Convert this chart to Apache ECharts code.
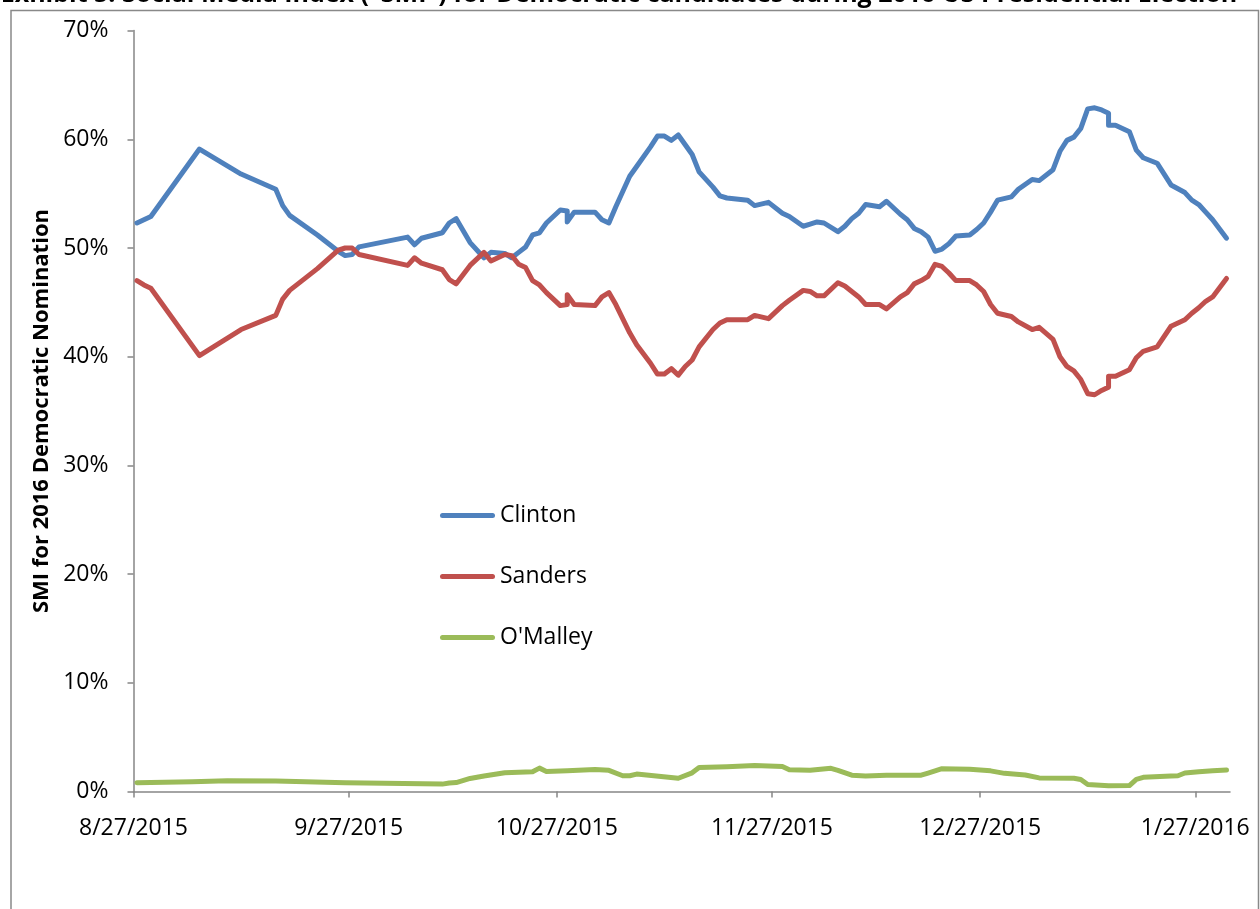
<!DOCTYPE html>
<html>
<head>
<meta charset="utf-8">
<script src="https://cdn.jsdelivr.net/npm/echarts@6/dist/echarts.min.js"></script>
<style>
  html, body { margin: 0; padding: 0; background: #ffffff; }
  #chart { width: 1260px; height: 909px; }
</style>
</head>
<body>
<div id="chart"></div>
<script>
// Daily SMI readings (percent of the Democratic field)
const dates = [
  '2015-08-27','2015-08-28','2015-08-29','2015-09-05','2015-09-11','2015-09-16','2015-09-17','2015-09-18',
  '2015-09-22','2015-09-25','2015-09-26','2015-09-27','2015-09-28','2015-10-05','2015-10-06','2015-10-07',
  '2015-10-10','2015-10-11','2015-10-12','2015-10-14','2015-10-16','2015-10-17','2015-10-19','2015-10-20',
  '2015-10-21','2015-10-22','2015-10-23','2015-10-24','2015-10-25','2015-10-27','2015-10-28','2015-10-28',
  '2015-10-29','2015-11-01','2015-11-02','2015-11-03','2015-11-04','2015-11-06','2015-11-07','2015-11-09',
  '2015-11-10','2015-11-11','2015-11-12','2015-11-13','2015-11-14','2015-11-15','2015-11-16','2015-11-18',
  '2015-11-19','2015-11-20','2015-11-23','2015-11-24','2015-11-26','2015-11-28','2015-11-29','2015-12-01',
  '2015-12-02','2015-12-03','2015-12-04','2015-12-06','2015-12-07','2015-12-08','2015-12-09','2015-12-10',
  '2015-12-12','2015-12-13','2015-12-15','2015-12-16','2015-12-17','2015-12-18','2015-12-19','2015-12-20',
  '2015-12-21','2015-12-22','2015-12-23','2015-12-25','2015-12-26','2015-12-27','2015-12-28','2015-12-29',
  '2015-12-31','2016-01-01','2016-01-03','2016-01-04','2016-01-06','2016-01-07','2016-01-08','2016-01-09',
  '2016-01-10','2016-01-11','2016-01-12','2016-01-13','2016-01-14','2016-01-14','2016-01-15','2016-01-17',
  '2016-01-18','2016-01-19','2016-01-21','2016-01-23','2016-01-25','2016-01-26','2016-01-27','2016-01-28',
  '2016-01-29','2016-01-31'
];

const clinton = [
  52.3, 52.6, 52.9, 59.1, 56.8, 55.4, 53.9, 53.0,
  51.2, 49.7, 49.3, 49.4, 50.1, 51.0, 50.3, 50.9,
  51.4, 52.3, 52.7, 50.5, 49.1, 49.6, 49.5, 49.1,
  49.6, 50.1, 51.2, 51.4, 52.3, 53.5, 53.4, 52.4,
  53.3, 53.3, 52.6, 52.3, 53.8, 56.6, 57.5, 59.3,
  60.3, 60.3, 59.9, 60.4, 59.5, 58.6, 57.0, 55.6,
  54.8, 54.6, 54.4, 53.9, 54.2, 53.2, 52.9, 52.0,
  52.2, 52.4, 52.3, 51.5, 52.0, 52.7, 53.2, 54.0,
  53.8, 54.3, 53.1, 52.6, 51.8, 51.5, 51.0, 49.7,
  49.9, 50.4, 51.1, 51.2, 51.7, 52.3, 53.3, 54.4,
  54.7, 55.4, 56.3, 56.2, 57.2, 58.9, 59.9, 60.2,
  61.0, 62.8, 62.9, 62.7, 62.4, 61.3, 61.3, 60.7,
  59.0, 58.3, 57.8, 55.8, 55.1, 54.4, 54.0, 53.3,
  52.6, 50.9
];

const sanders = [
  47.0, 46.6, 46.3, 40.1, 42.5, 43.8, 45.3, 46.1,
  48.1, 49.8, 50.0, 50.0, 49.4, 48.4, 49.1, 48.6,
  48.0, 47.1, 46.7, 48.4, 49.6, 48.8, 49.4, 49.3,
  48.5, 48.2, 47.0, 46.6, 45.9, 44.7, 44.8, 45.7,
  44.8, 44.7, 45.5, 45.9, 44.8, 42.2, 41.1, 39.4,
  38.4, 38.4, 38.9, 38.3, 39.1, 39.7, 40.9, 42.5,
  43.1, 43.4, 43.4, 43.8, 43.5, 44.7, 45.2, 46.1,
  46.0, 45.6, 45.6, 46.8, 46.5, 46.0, 45.5, 44.8,
  44.8, 44.4, 45.5, 45.9, 46.7, 47.0, 47.4, 48.5,
  48.3, 47.7, 47.0, 47.0, 46.6, 46.0, 44.8, 44.0,
  43.7, 43.2, 42.5, 42.7, 41.6, 40.0, 39.1, 38.7,
  37.9, 36.6, 36.5, 36.9, 37.2, 38.2, 38.2, 38.8,
  39.9, 40.5, 40.9, 42.8, 43.4, 44.0, 44.5, 45.1,
  45.5, 47.2
];

const omalleyDates = [
  '2015-08-27','2015-09-04','2015-09-09','2015-09-16','2015-09-26','2015-10-10','2015-10-11','2015-10-12',
  '2015-10-14','2015-10-16','2015-10-19','2015-10-23','2015-10-24','2015-10-25','2015-10-28','2015-11-01',
  '2015-11-03','2015-11-05','2015-11-06','2015-11-07','2015-11-13','2015-11-15','2015-11-16','2015-11-20',
  '2015-11-24','2015-11-28','2015-11-29','2015-12-02','2015-12-05','2015-12-06','2015-12-08','2015-12-10',
  '2015-12-13','2015-12-18','2015-12-19','2015-12-21','2015-12-25','2015-12-28','2015-12-30','2016-01-02',
  '2016-01-04','2016-01-09','2016-01-10','2016-01-11','2016-01-14','2016-01-17','2016-01-18','2016-01-19',
  '2016-01-23','2016-01-24','2016-01-25','2016-01-27','2016-01-29','2016-01-31'
];

const omalley = [
  0.81, 0.90, 1.00, 0.97, 0.81, 0.68, 0.78, 0.82,
  1.20, 1.43, 1.72, 1.82, 2.15, 1.85, 1.92, 2.03,
  1.95, 1.45, 1.45, 1.60, 1.22, 1.72, 2.20, 2.28,
  2.40, 2.30, 2.00, 1.95, 2.13, 1.95, 1.50, 1.43,
  1.50, 1.50, 1.70, 2.10, 2.04, 1.90, 1.67, 1.52,
  1.25, 1.22, 1.10, 0.65, 0.52, 0.55, 1.12, 1.30,
  1.43, 1.45, 1.70, 1.82, 1.90, 1.98
];

// Axis range and monthly tick dates
const axisStart = '2015-08-27';
const axisEnd = '2016-02-01';
const tickDates = ['2015-08-27','2015-09-27','2015-10-27','2015-11-27','2015-12-27','2016-01-27'];

const seriesNames = ['Clinton', 'Sanders', "O'Malley"];
const seriesColors = ['#4F81BD', '#C0504D', '#9BBB59'];

const titleText = 'Exhibit 5: Social Media Index ("SMI") for Democratic candidates during 2016 US Presidential Election';
const yAxisTitle = 'SMI for 2016 Democratic Nomination';

const DAY_MS = 86400000;
function toDate(s) {
  const p = s.split('-').map(Number);
  return new Date(p[0], p[1] - 1, p[2]);
}
const origin = toDate(axisStart);
// whole days elapsed since the axis start
function dayIndex(s) { return Math.round((toDate(s) - origin) / DAY_MS); }
// each daily value sits in the middle of its day
function pairs(ds, vals) { return ds.map((d, i) => [dayIndex(d) + 0.5, vals[i]]); }

function fmtDay(v) {
  const d = new Date(origin.getFullYear(), origin.getMonth(), origin.getDate() + Math.round(v));
  return (d.getMonth() + 1) + '/' + d.getDate() + '/' + d.getFullYear();
}

const FONT = '"Open Sans", "Liberation Sans", sans-serif';
// legend key: a short thick stroke with rounded ends
const LEGEND_KEY = 'path://M2.5,0 H52.5 A2.5,2.5 0 0 1 52.5,5 H2.5 A2.5,2.5 0 0 1 2.5,0 Z';

const chart = echarts.init(document.getElementById('chart'), null, { renderer: 'canvas' });

const lineSeries = [pairs(dates, clinton), pairs(dates, sanders), pairs(omalleyDates, omalley)].map((data, i) => ({
  name: seriesNames[i],
  type: 'line',
  data: data,
  symbol: 'none',
  smooth: false,
  lineStyle: { color: seriesColors[i], width: 5, cap: 'round', join: 'round' },
  itemStyle: { color: seriesColors[i] }
}));

const tickDays = tickDates.map(dayIndex);

chart.setOption({
  animation: false,
  backgroundColor: '#ffffff',
  grid: { left: 133.5, right: 30, top: 30.6, bottom: 117.5, containLabel: false },
  graphic: [
    {
      type: 'rect',
      shape: { x: 11, y: 10.5, width: 1247.5, height: 930 },
      style: { fill: 'none', stroke: '#898989', lineWidth: 1.5 },
      silent: true
    },
    {
      type: 'text',
      x: 619, y: -5,
      style: {
        text: titleText,
        font: 'bold 25px ' + FONT,
        fill: '#000000',
        align: 'center',
        verticalAlign: 'middle'
      },
      silent: true
    }
  ],
  legend: {
    orient: 'vertical',
    left: 440,
    top: 504,
    padding: 0,
    icon: LEGEND_KEY,
    itemWidth: 55,
    itemHeight: 5,
    itemGap: 38,
    data: seriesNames,
    itemStyle: { borderWidth: 0 },
    lineStyle: { width: 0 },
    textStyle: { fontFamily: FONT, fontSize: 23, color: '#000000', lineHeight: 23 }
  },
  xAxis: {
    type: 'value',
    min: 0,
    max: dayIndex(axisEnd),
    splitLine: { show: false },
    axisLine: { lineStyle: { color: '#868686', width: 1.5 } },
    axisTick: {
      show: true, length: 6, inside: false,
      customValues: tickDays,
      lineStyle: { color: '#868686', width: 1.5 }
    },
    axisLabel: {
      customValues: tickDays,
      formatter: fmtDay,
      fontFamily: FONT, fontSize: 23, color: '#000000',
      margin: 25
    }
  },
  yAxis: {
    type: 'value',
    min: 0, max: 70, interval: 10,
    name: yAxisTitle,
    nameLocation: 'middle',
    nameGap: 79,
    nameTextStyle: { fontFamily: FONT, fontSize: 22, fontWeight: 'bold', color: '#000000' },
    splitLine: { show: false },
    axisLine: { show: true, lineStyle: { color: '#868686', width: 1.5 } },
    axisTick: { show: true, length: 6, lineStyle: { color: '#868686', width: 1.5 } },
    axisLabel: { formatter: '{value}%', fontFamily: FONT, fontSize: 23, color: '#000000', margin: 25 }
  },
  series: lineSeries
});
</script>
</body>
</html>
